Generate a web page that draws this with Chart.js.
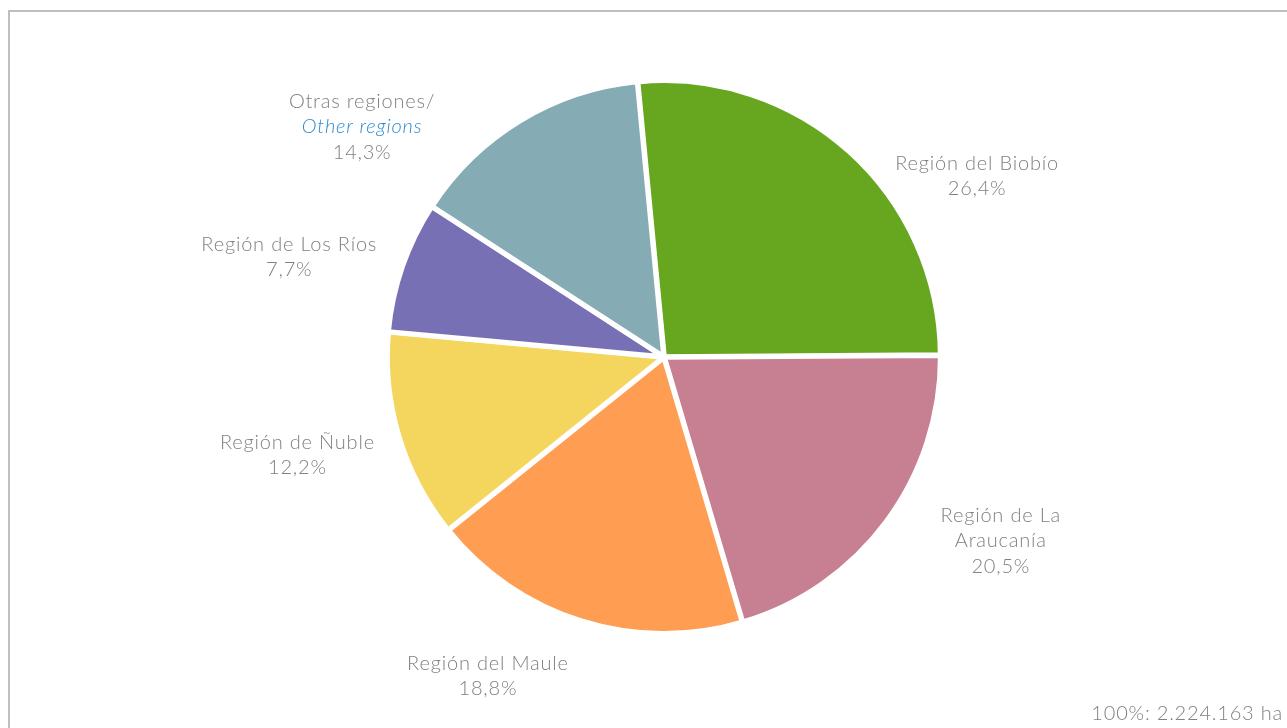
<!DOCTYPE html>
<html>
<head>
<meta charset="utf-8">
<script src="https://cdn.jsdelivr.net/npm/chart.js@4.4.1/dist/chart.umd.min.js"></script>
<style>
  html, body { margin: 0; padding: 0; background: #fff; }
  #marco { position: absolute; left: 8px; top: 10px; right: -5px; bottom: -5px;
           border-top: 2px solid #bfbfbf; border-left: 2px solid #bfbfbf; }
  #wrap { position: absolute; left: 0; top: 0; width: 1287px; height: 728px; }
</style>
</head>
<body>
<div id="marco"></div>
<div id="wrap"><canvas id="grafica" width="1287" height="728"></canvas></div>
<script>
// datos
const regiones = ["Región del Biobío", "Región de La Araucanía", "Región del Maule",
                  "Región de Ñuble", "Región de Los Ríos", "Otras regiones/"];
const porcentajes = [26.4, 20.5, 18.8, 12.2, 7.7, 14.3];
const colores = ["#67a61f", "#c77f92", "#ff9d52", "#f4d55e", "#7870b4", "#85abb5"];
const total = "100%: 2.224.163 ha";

// lineas de cada etiqueta (la ultima es el porcentaje)
const etiquetas = [
  ["Región del Biobío"],
  ["Región de La", "Araucanía"],
  ["Región del Maule"],
  ["Región de Ñuble"],
  ["Región de Los Ríos"],
  ["Otras regiones/", "Other regions"]
];

const fuente = "300 20px Lato, 'Open Sans', sans-serif";
const gris = "#808080";

// angulo (grados desde arriba) y distancia relativa al radio para las etiquetas
const posEtiquetas = [
  { ang: 60, dist: 1.31 },
  { ang: 118.6, dist: 1.39 },
  { ang: 208.9, dist: 1.32 },
  { ang: 255, dist: 1.375 },
  { ang: 284.9, dist: 1.405 },
  { ang: 307.3, dist: 1.375 }
];

const pluginEtiquetas = {
  id: "etiquetas",
  afterDatasetsDraw(chart) {
    const ctx = chart.ctx;
    const arcos = chart.getDatasetMeta(0).data;
    ctx.save();
    ctx.letterSpacing = "0.8px";
    ctx.textAlign = "center";
    ctx.textBaseline = "middle";
    arcos.forEach((arco, i) => {
      const p = posEtiquetas[i];
      const a = (p.ang - 90) * Math.PI / 180;
      const r = arco.outerRadius * p.dist;
      const x = arco.x + Math.cos(a) * r;
      const y = arco.y + Math.sin(a) * r;
      const lineas = etiquetas[i].concat([porcentajes[i].toFixed(1).replace(".", ",") + "%"]);
      const alto = 25.5;
      const y0 = y - (lineas.length - 1) * alto / 2;
      lineas.forEach((t, j) => {
        if (i === 5 && j === 1) {
          ctx.font = "italic " + fuente;
          ctx.fillStyle = "#2f8bd1";
        } else {
          ctx.font = fuente;
          ctx.fillStyle = gris;
        }
        ctx.fillText(t, x, y0 + j * alto);
      });
    });
    // total
    ctx.font = fuente;
    ctx.fillStyle = gris;
    ctx.textAlign = "right";
    ctx.fillText(total, chart.width - 4, 714);
    ctx.restore();
  }
};

new Chart(document.getElementById("grafica"), {
  type: "pie",
  data: {
    labels: regiones,
    datasets: [{
      data: porcentajes,
      backgroundColor: colores,
      borderColor: "#ffffff",
      borderWidth: 5,
      offset: 2,
      hoverOffset: 0
    }]
  },
  options: {
    responsive: false,
    animation: false,
    rotation: -5.5,
    radius: 276,
    layout: { padding: { left: 62, right: 21, top: 42, bottom: 56 } },
    plugins: {
      legend: { display: false },
      tooltip: { enabled: false }
    }
  },
  plugins: [pluginEtiquetas]
});
</script>
</body>
</html>
